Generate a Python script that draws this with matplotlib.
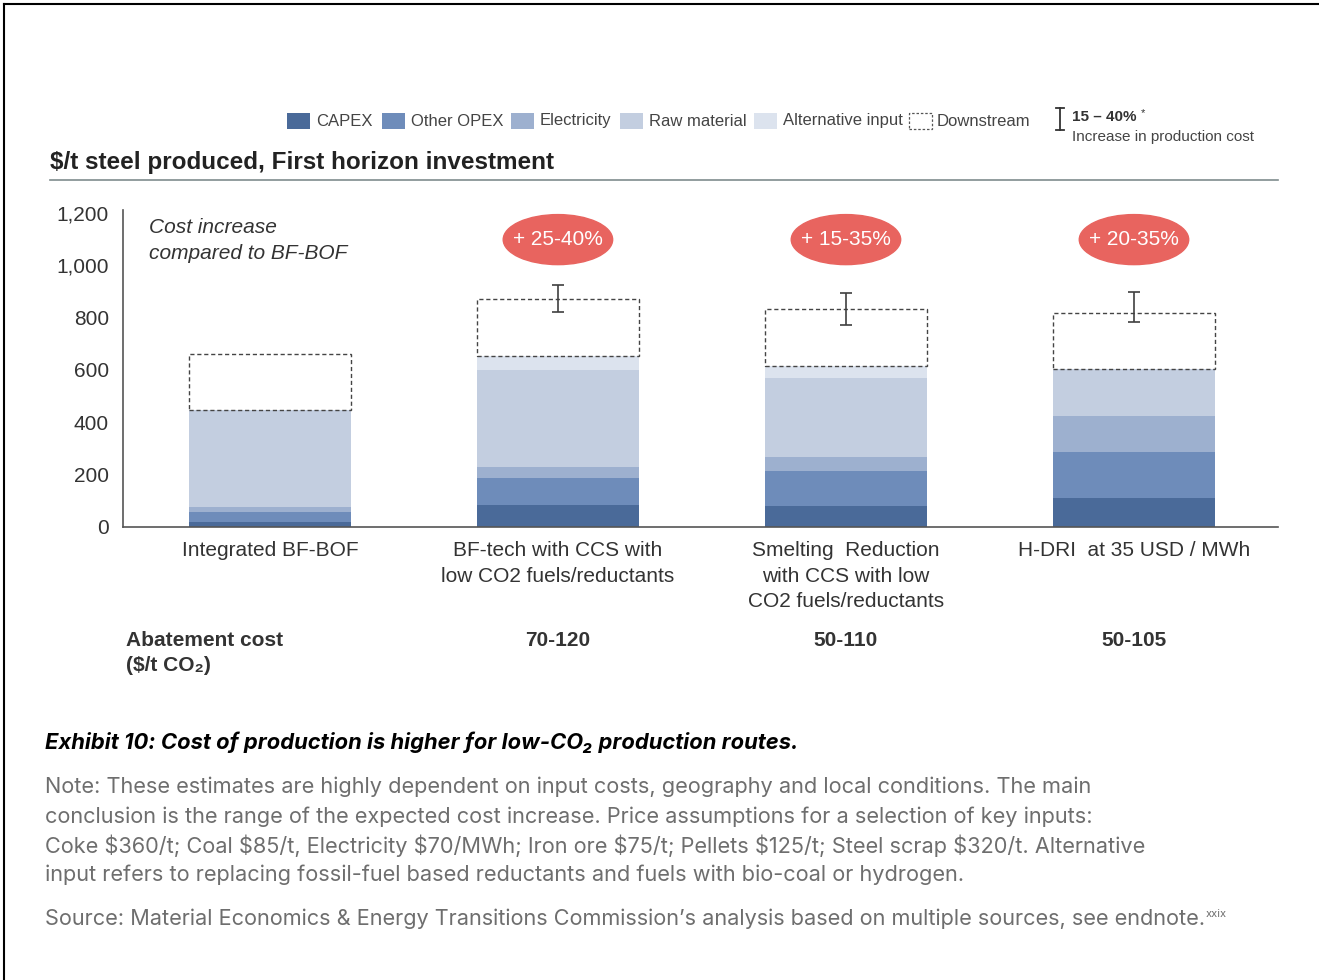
import numpy as np
import matplotlib.pyplot as plt
from matplotlib.patches import Ellipse, Rectangle
from matplotlib.lines import Line2D

# Cost build-up per route, $/t steel
categories = ["Integrated BF-BOF",
              "BF-tech with CCS with\nlow CO2 fuels/reductants",
              "Smelting  Reduction\nwith CCS with low\nCO2 fuels/reductants",
              "H-DRI  at 35 USD / MWh"]
capex = [20, 84, 82, 112]
other_opex = [38, 102, 132, 176]
electricity = [20, 42, 53, 136]
raw_material = [369, 372, 300, 180]
alternative_input = [0, 53, 46, 0]
downstream = [213, 217, 219, 212]

# range of the total cost (error bars), no range for the reference route
range_low = [np.nan, 820, 772, 781]
range_high = [np.nan, 922, 895, 898]

increase = ["", "+ 25-40%", "+ 15-35%", "+ 20-35%"]
abatement = ["", "70-120", "50-110", "50-105"]

series = [("CAPEX", capex, "#4a6a99"),
          ("Other OPEX", other_opex, "#6e8cba"),
          ("Electricity", electricity, "#9db0cf"),
          ("Raw material", raw_material, "#c3cee0"),
          ("Alternative input", alternative_input, "#dce3ee")]

notes = ["Note: These estimates are highly dependent on input costs, geography and local conditions. The main",
         "conclusion is the range of the expected cost increase. Price assumptions for a selection of key inputs:",
         "Coke $360/t; Coal $85/t, Electricity $70/MWh; Iron ore $75/t; Pellets $125/t; Steel scrap $320/t. Alternative",
         "input refers to replacing fossil-fuel based reductants and fuels with bio-coal or hydrogen."]

plt.rcParams['font.family'] = ['Liberation Sans', 'DejaVu Sans']

fig = plt.figure(figsize=(13.19, 9.8), dpi=100)
ax = fig.add_axes([123/1319, 1 - 527/980, (1278-123)/1319, (527-210)/980])

x = np.arange(len(categories))
width = 0.56
bottom = np.zeros(len(categories))
for name, vals, col in series:
    ax.bar(x, vals, width, bottom=bottom, color=col, linewidth=0)
    bottom += np.array(vals)

ax.bar(x, downstream, width, bottom=bottom, fill=False, edgecolor="#444444",
       linewidth=1, linestyle=(0, (3, 2)))

mid = (np.array(range_low) + np.array(range_high)) / 2
err = (np.array(range_high) - np.array(range_low)) / 2
ax.errorbar(x, mid, yerr=err, fmt="none", ecolor="#404040", elinewidth=1.2,
            capsize=4, capthick=1.2)

# red bubbles with the cost increase
for i, lab in enumerate(increase):
    if not lab:
        continue
    ax.add_patch(Ellipse((i, 1097), 0.38, 191, color="#e8645f", clip_on=False))
    ax.text(i, 1097, lab, color="white", fontsize=15, ha="center", va="center")

ax.text(-0.42, 1095, "Cost increase\ncompared to BF-BOF", fontsize=15,
        style="italic", color="#333333", va="center", linespacing=1.45)

ax.set_xlim(-0.51, 3.5)
ax.set_ylim(0, 1210)
ax.set_yticks([0, 200, 400, 600, 800, 1000, 1200])
ax.set_yticklabels(["0", "200", "400", "600", "800", "1,000", "1,200"])
ax.set_xticks(x)
ax.set_xticklabels(categories, linespacing=1.45)
ax.tick_params(axis="y", length=0, pad=10, labelsize=15, labelcolor="#333333")
ax.tick_params(axis="x", length=0, pad=10, labelsize=15, labelcolor="#333333")
for s in ["top", "right"]:
    ax.spines[s].set_visible(False)
for s in ["left", "bottom"]:
    ax.spines[s].set_color("#555555")
    ax.spines[s].set_linewidth(1.2)

# abatement cost row
fig.text(126/1319, 1 - 640/980, "Abatement cost", fontsize=15, weight="bold",
         color="#333333", va="center")
fig.text(126/1319, 1 - 665/980, "($/t CO₂)", fontsize=15, weight="bold",
         color="#333333", va="center", parse_math=False)
for i, lab in enumerate(abatement):
    if lab:
        xf = (ax.transData.transform((i, 0))[0]) / fig.bbox.width
        fig.text(xf, 1 - 640/980, lab, fontsize=15, weight="bold",
                 color="#333333", ha="center", va="center")

# title and rule
fig.text(50/1319, 1 - 162/980, "$/t steel produced, First horizon investment",
         fontsize=17.5, weight="bold", color="#222222", va="center",
         parse_math=False)
fig.add_artist(Line2D([50/1319, 1278/1319], [1 - 180/980, 1 - 180/980],
                      color="#7f8c8d", linewidth=1.2))

# legend
leg_y = 1 - 121/980
sq_w, sq_h = 23/1319, 16/980
leg_items = [("CAPEX", 287), ("Other OPEX", 382), ("Electricity", 511),
             ("Raw material", 620), ("Alternative input", 754)]
for (name, px), (_, _, col) in zip(leg_items, series):
    fig.add_artist(Rectangle((px/1319, leg_y - sq_h/2), sq_w, sq_h,
                             color=col, linewidth=0))
    fig.text((px + 29)/1319, leg_y, name, fontsize=12, color="#444444",
             va="center")
fig.add_artist(Rectangle((909/1319, leg_y - sq_h/2), sq_w, sq_h, fill=False,
                         edgecolor="#555555", linewidth=0.9,
                         linestyle=(0, (2, 1.5))))
fig.text(937/1319, leg_y, "Downstream", fontsize=12, color="#444444",
         va="center")

# error bar legend
ex = 1060/1319
fig.add_artist(Line2D([ex, ex], [1 - 108/980, 1 - 130/980], color="#333333",
                      linewidth=1.3))
for yy in [108, 130]:
    fig.add_artist(Line2D([ex - 4/1319, ex + 4/1319], [1 - yy/980, 1 - yy/980],
                          color="#333333", linewidth=1.3))
fig.text(1072/1319, 1 - 117/980, "15 – 40%", fontsize=11, weight="bold",
         color="#333333", va="center")
fig.text(1141/1319, 1 - 113/980, "*", fontsize=8, color="#333333",
         va="center")
fig.text(1072/1319, 1 - 137/980, "Increase in production cost", fontsize=11,
         color="#444444", va="center")

# caption and notes
fig.text(45/1319, 1 - 742/980,
         "Exhibit 10: Cost of production is higher for low-CO₂ production routes.",
         fontsize=15.8, weight="bold", style="italic",
         family=["Inter", "Roboto"], color="black", va="center")
for k, line in enumerate(notes):
    fig.text(45/1319, 1 - (787 + 29.3 * k)/980, line, fontsize=15.65,
             family="Inter", color="#6e6e6e", va="center", parse_math=False)
src = fig.text(45/1319, 1 - 919/980,
               "Source: Material Economics & Energy Transitions Commission’s analysis based on multiple sources, see endnote.",
               fontsize=15.6, family="Inter", color="#6e6e6e", va="center")
fig.canvas.draw()
bb = src.get_window_extent()
fig.text(bb.x1 / fig.bbox.width + 1/1319, 1 - 914/980, "xxix", fontsize=8,
         family="Inter", color="#6e6e6e", va="center")

# page frame
fig.add_artist(Line2D([4/1319, 1], [1 - 4/980, 1 - 4/980], color="black",
                      linewidth=1.5))
fig.add_artist(Line2D([4/1319, 4/1319], [0, 1 - 4/980], color="black",
                      linewidth=1.5))

fig.savefig("out.png", dpi=100)
